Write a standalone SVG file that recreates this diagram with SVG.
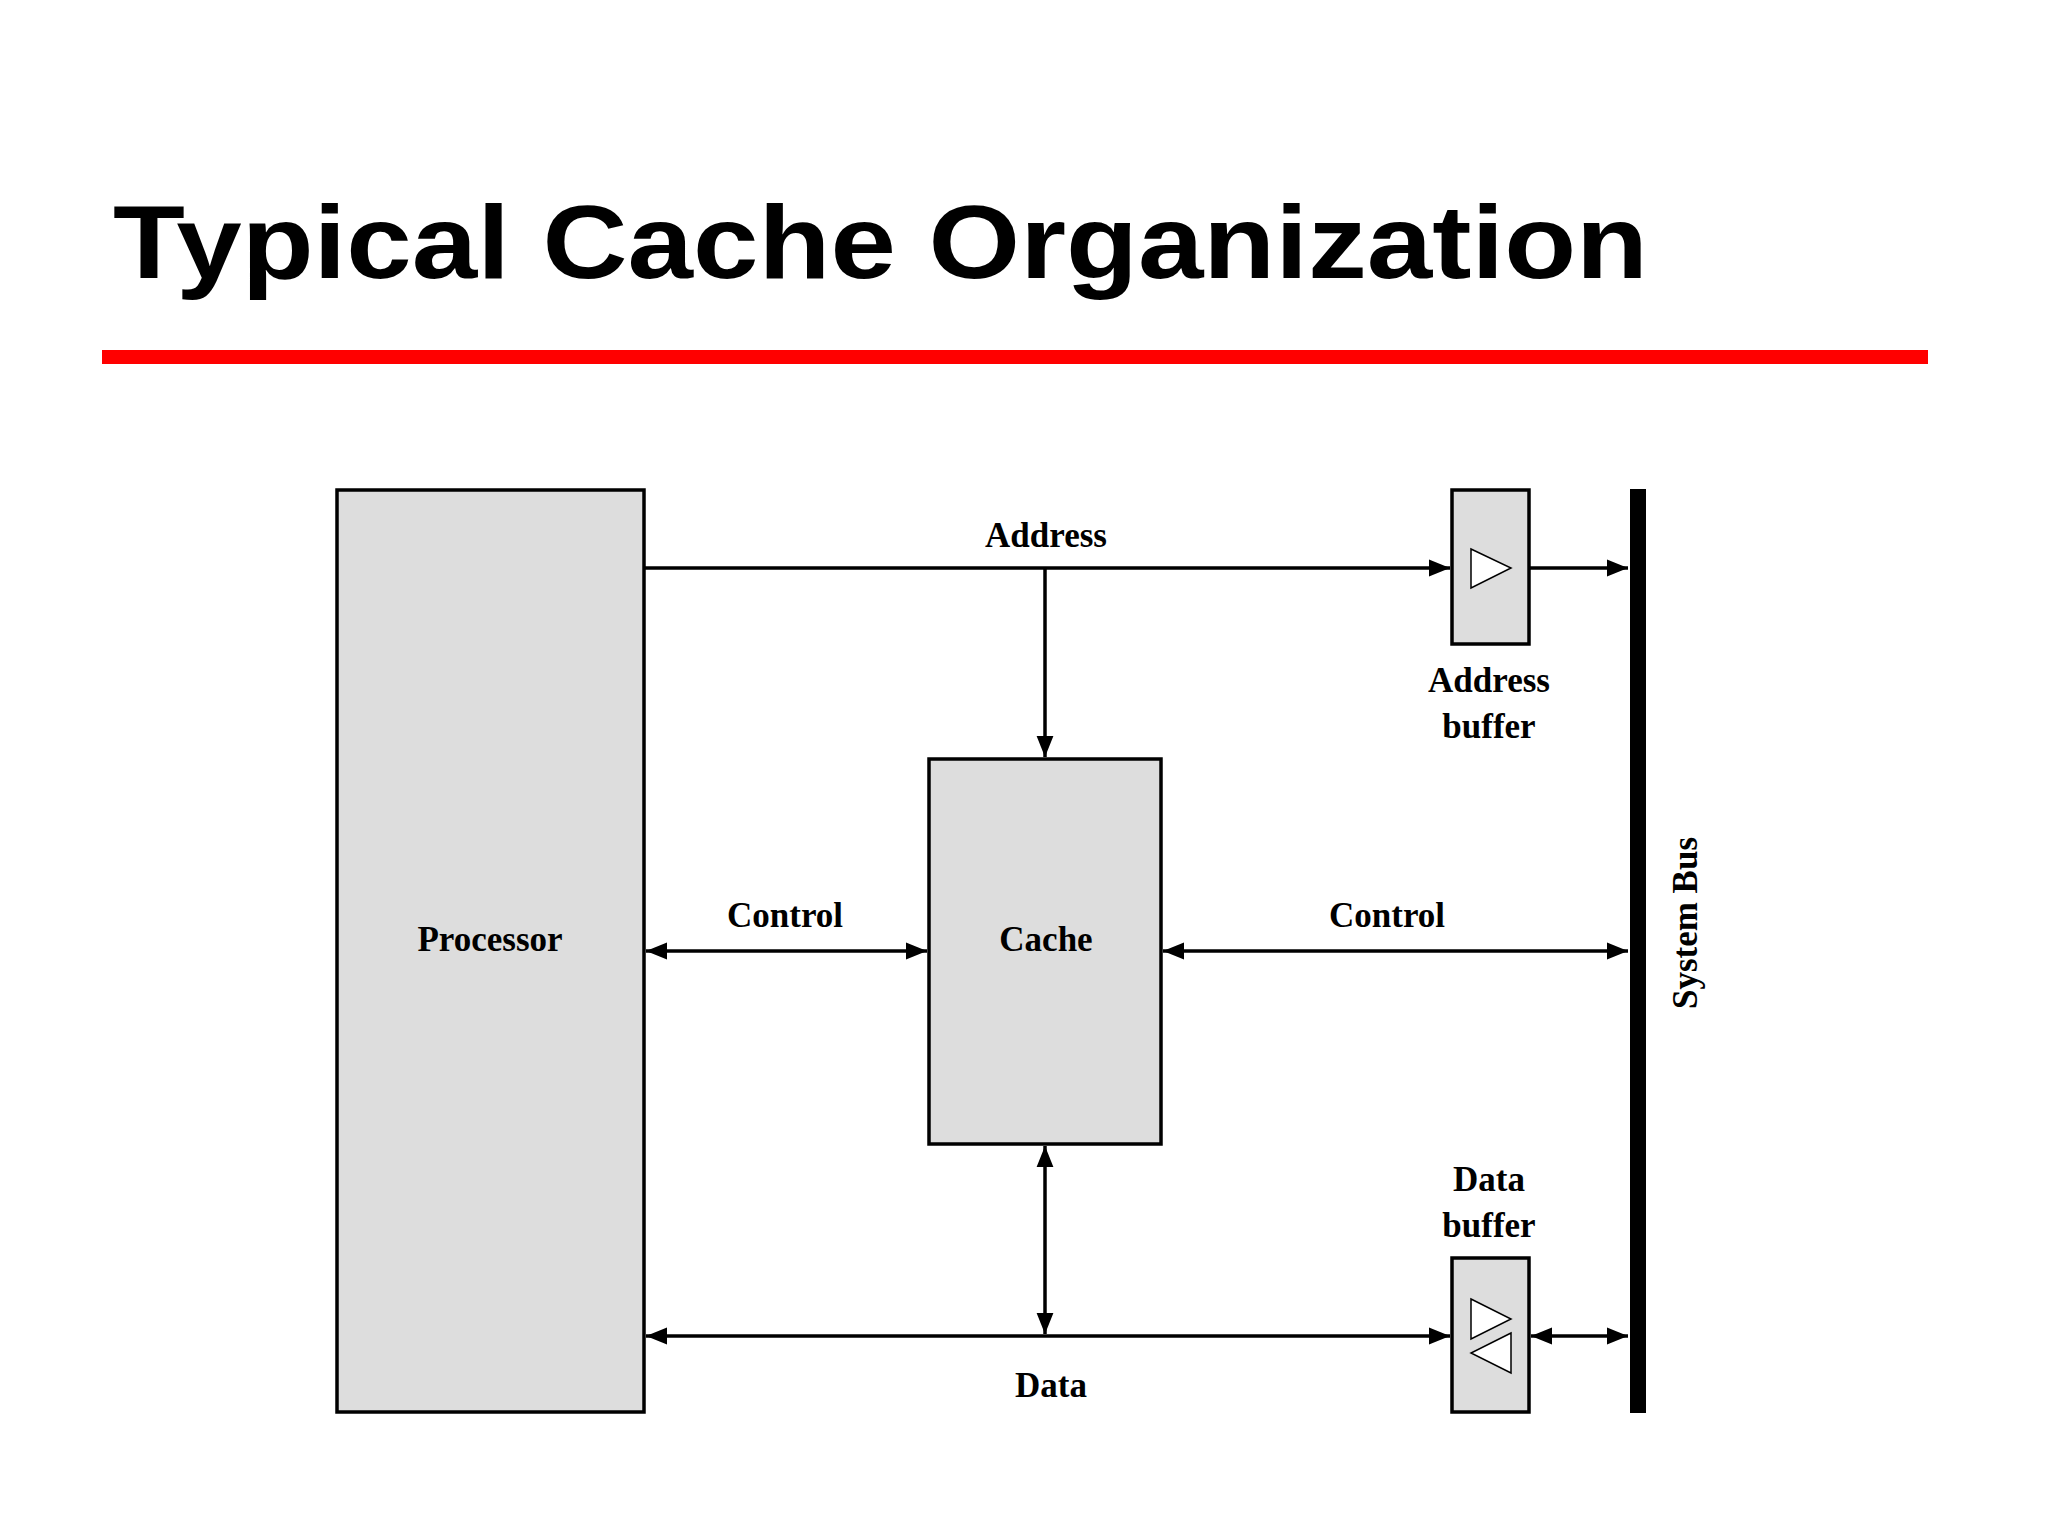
<svg xmlns="http://www.w3.org/2000/svg" width="2048" height="1536" viewBox="0 0 2048 1536">
<style>
.box{fill:#dddddd;stroke:#000;stroke-width:3.5}
.ln{stroke:#000;stroke-width:3.5;fill:none}
.lbl{font-family:"Liberation Serif",serif;font-weight:bold;font-size:35px;text-anchor:middle;fill:#000}
.tri{fill:#fff;stroke:#000;stroke-width:1.5}
</style>
<defs>
<marker id="ah" viewBox="0 0 10 10" refX="10" refY="5" markerWidth="6" markerHeight="6" orient="auto-start-reverse" markerUnits="strokeWidth"><path d="M0,1L10,5L0,9z" fill="#000"/></marker>
</defs>
<rect width="2048" height="1536" fill="#fff"/>
<text x="113" y="278" font-family="'Liberation Sans',Arial,sans-serif" font-weight="900" font-size="104" textLength="1535" lengthAdjust="spacingAndGlyphs">Typical Cache Organization</text>
<rect x="102" y="350" width="1826" height="14" fill="#ff0000"/>
<g id="processor"><rect class="box" x="337" y="490" width="307" height="922"/><text class="lbl" x="490" y="951">Processor</text></g>
<g id="cache"><rect class="box" x="929" y="759" width="232" height="385"/><text class="lbl" x="1046" y="951">Cache</text></g>
<g id="addrbuf"><rect class="box" x="1452" y="490" width="77" height="154"/><polygon class="tri" points="1471,549 1511,568 1471,588"/><text class="lbl" x="1489" y="692">Address</text><text class="lbl" x="1489" y="738">buffer</text></g>
<g id="databuf"><rect class="box" x="1452" y="1258" width="77" height="154"/><polygon class="tri" points="1471,1299 1511,1319 1471,1339"/><polygon class="tri" points="1511,1333 1471,1353 1511,1373"/><text class="lbl" x="1489" y="1191">Data</text><text class="lbl" x="1489" y="1237">buffer</text></g>
<g id="bus"><rect x="1630" y="489" width="16" height="924" fill="#000"/><text class="lbl" transform="translate(1697,923) rotate(-90)">System Bus</text></g>
<g id="connectors">
<line class="ln" x1="644" y1="568" x2="1450" y2="568" marker-end="url(#ah)"/>
<line class="ln" x1="1529" y1="568" x2="1628" y2="568" marker-end="url(#ah)"/>
<line class="ln" x1="1045" y1="568" x2="1045" y2="757" marker-end="url(#ah)"/>
<line class="ln" x1="646" y1="951" x2="927" y2="951" marker-start="url(#ah)" marker-end="url(#ah)"/>
<line class="ln" x1="1163" y1="951" x2="1628" y2="951" marker-start="url(#ah)" marker-end="url(#ah)"/>
<line class="ln" x1="1045" y1="1146" x2="1045" y2="1334" marker-start="url(#ah)" marker-end="url(#ah)"/>
<line class="ln" x1="646" y1="1336" x2="1450" y2="1336" marker-start="url(#ah)" marker-end="url(#ah)"/>
<line class="ln" x1="1531" y1="1336" x2="1628" y2="1336" marker-start="url(#ah)" marker-end="url(#ah)"/>
<text class="lbl" x="1046" y="547">Address</text>
<text class="lbl" x="785" y="927">Control</text>
<text class="lbl" x="1387" y="927">Control</text>
<text class="lbl" x="1051" y="1397">Data</text>
</g>
</svg>
